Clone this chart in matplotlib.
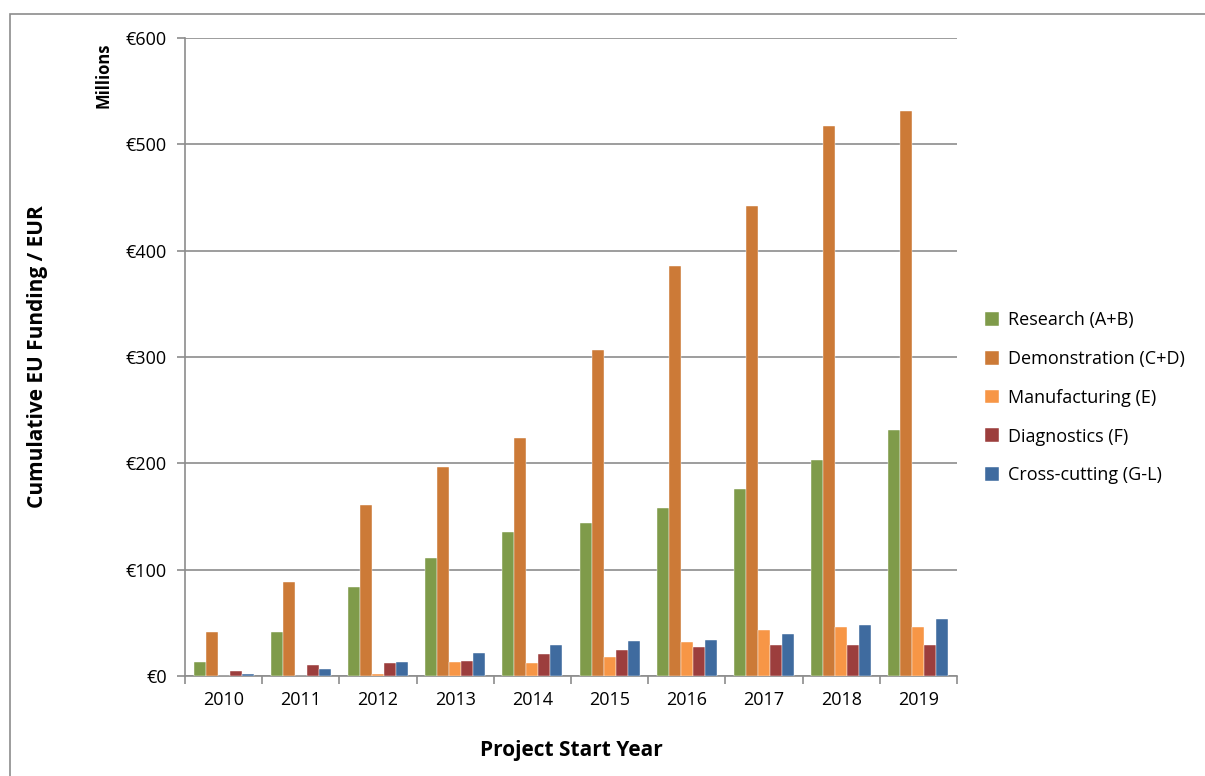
import numpy as np
import matplotlib.pyplot as plt
from matplotlib.patches import Rectangle
from matplotlib.ticker import FuncFormatter

plt.rcParams['font.family'] = ['Open Sans', 'DejaVu Sans']

years = ['2010', '2011', '2012', '2013', '2014', '2015', '2016', '2017', '2018', '2019']
series = ['Research (A+B)', 'Demonstration (C+D)', 'Manufacturing (E)',
          'Diagnostics (F)', 'Cross-cutting (G-L)']
research = [13, 41, 84, 111, 135, 144, 158, 176, 203, 231]
demonstration = [41, 88, 161, 197, 224, 307, 386, 442, 517, 531]
manufacturing = [0, 0, 2, 13, 12.5, 18, 32, 43.5, 46.5, 46.5]
diagnostics = [5, 10, 12.5, 14.5, 21, 24, 27, 29, 29, 29]
crosscutting = [2, 7, 13.5, 21.5, 29.5, 33, 34, 39.5, 47.5, 53.5]
colors = ['#7f9b4a', '#cc7a37', '#f79646', '#9c3e3d', '#3f6b9f']

values = [research, demonstration, manufacturing, diagnostics, crosscutting]

fig = plt.figure(figsize=(12.05, 7.76), dpi=100)
ax = fig.add_axes([185 / 1205, 1 - 676 / 776, 772 / 1205, 638 / 776])

# outer chart border like the spreadsheet chart area
fig.patches.append(Rectangle((10 / 1205, -0.05), 1.2, 1 - 14 / 776 + 0.05,
                             transform=fig.transFigure, fill=False,
                             edgecolor='#8c8c8c', linewidth=1.2))

x = np.arange(len(years))
w = 0.155
for i, (name, vals) in enumerate(zip(series, values)):
    ax.bar(x + (i - 2) * w, vals, w, color=colors[i], label=name,
           edgecolor='white', linewidth=0.3, zorder=3)

ax.set_xlim(-0.5, len(years) - 0.5)
ax.set_ylim(0, 600)
ax.set_yticks(range(0, 601, 100))
ax.yaxis.set_major_formatter(FuncFormatter(lambda v, p: f'€{int(v)}'))
ax.set_xticks(x)
ax.set_xticklabels(years)
ax.set_xticks(np.arange(-0.5, len(years), 1), minor=True)
ax.tick_params(axis='x', which='major', length=0, pad=11, labelsize=13)
ax.tick_params(axis='x', which='minor', length=6, color='#8c8c8c', width=1.2)
ax.tick_params(axis='y', length=6, color='#8c8c8c', width=1.2, labelsize=13, pad=7)

ax.grid(axis='y', color='#8c8c8c', linewidth=1.2, zorder=0)
for s in ['top', 'right']:
    ax.spines[s].set_visible(False)
for s in ['left', 'bottom']:
    ax.spines[s].set_color('#8c8c8c')
    ax.spines[s].set_linewidth(1.2)

ax.set_ylabel('Cumulative EU Funding / EUR', fontsize=15, fontweight='bold', labelpad=56)
ax.set_xlabel('Project Start Year', fontsize=15, fontweight='bold', labelpad=22)
fig.text(103 / 1205, 1 - 75 / 776, 'Millions', rotation=90, fontsize=12,
         fontweight='bold', ha='center', va='center')

leg = ax.legend(loc='center left', bbox_to_anchor=(1.015, 0.436), frameon=False,
                fontsize=13, handlelength=0.8, handleheight=0.8,
                labelspacing=1.15, handletextpad=0.5)

fig.savefig('out.png', dpi=100)
